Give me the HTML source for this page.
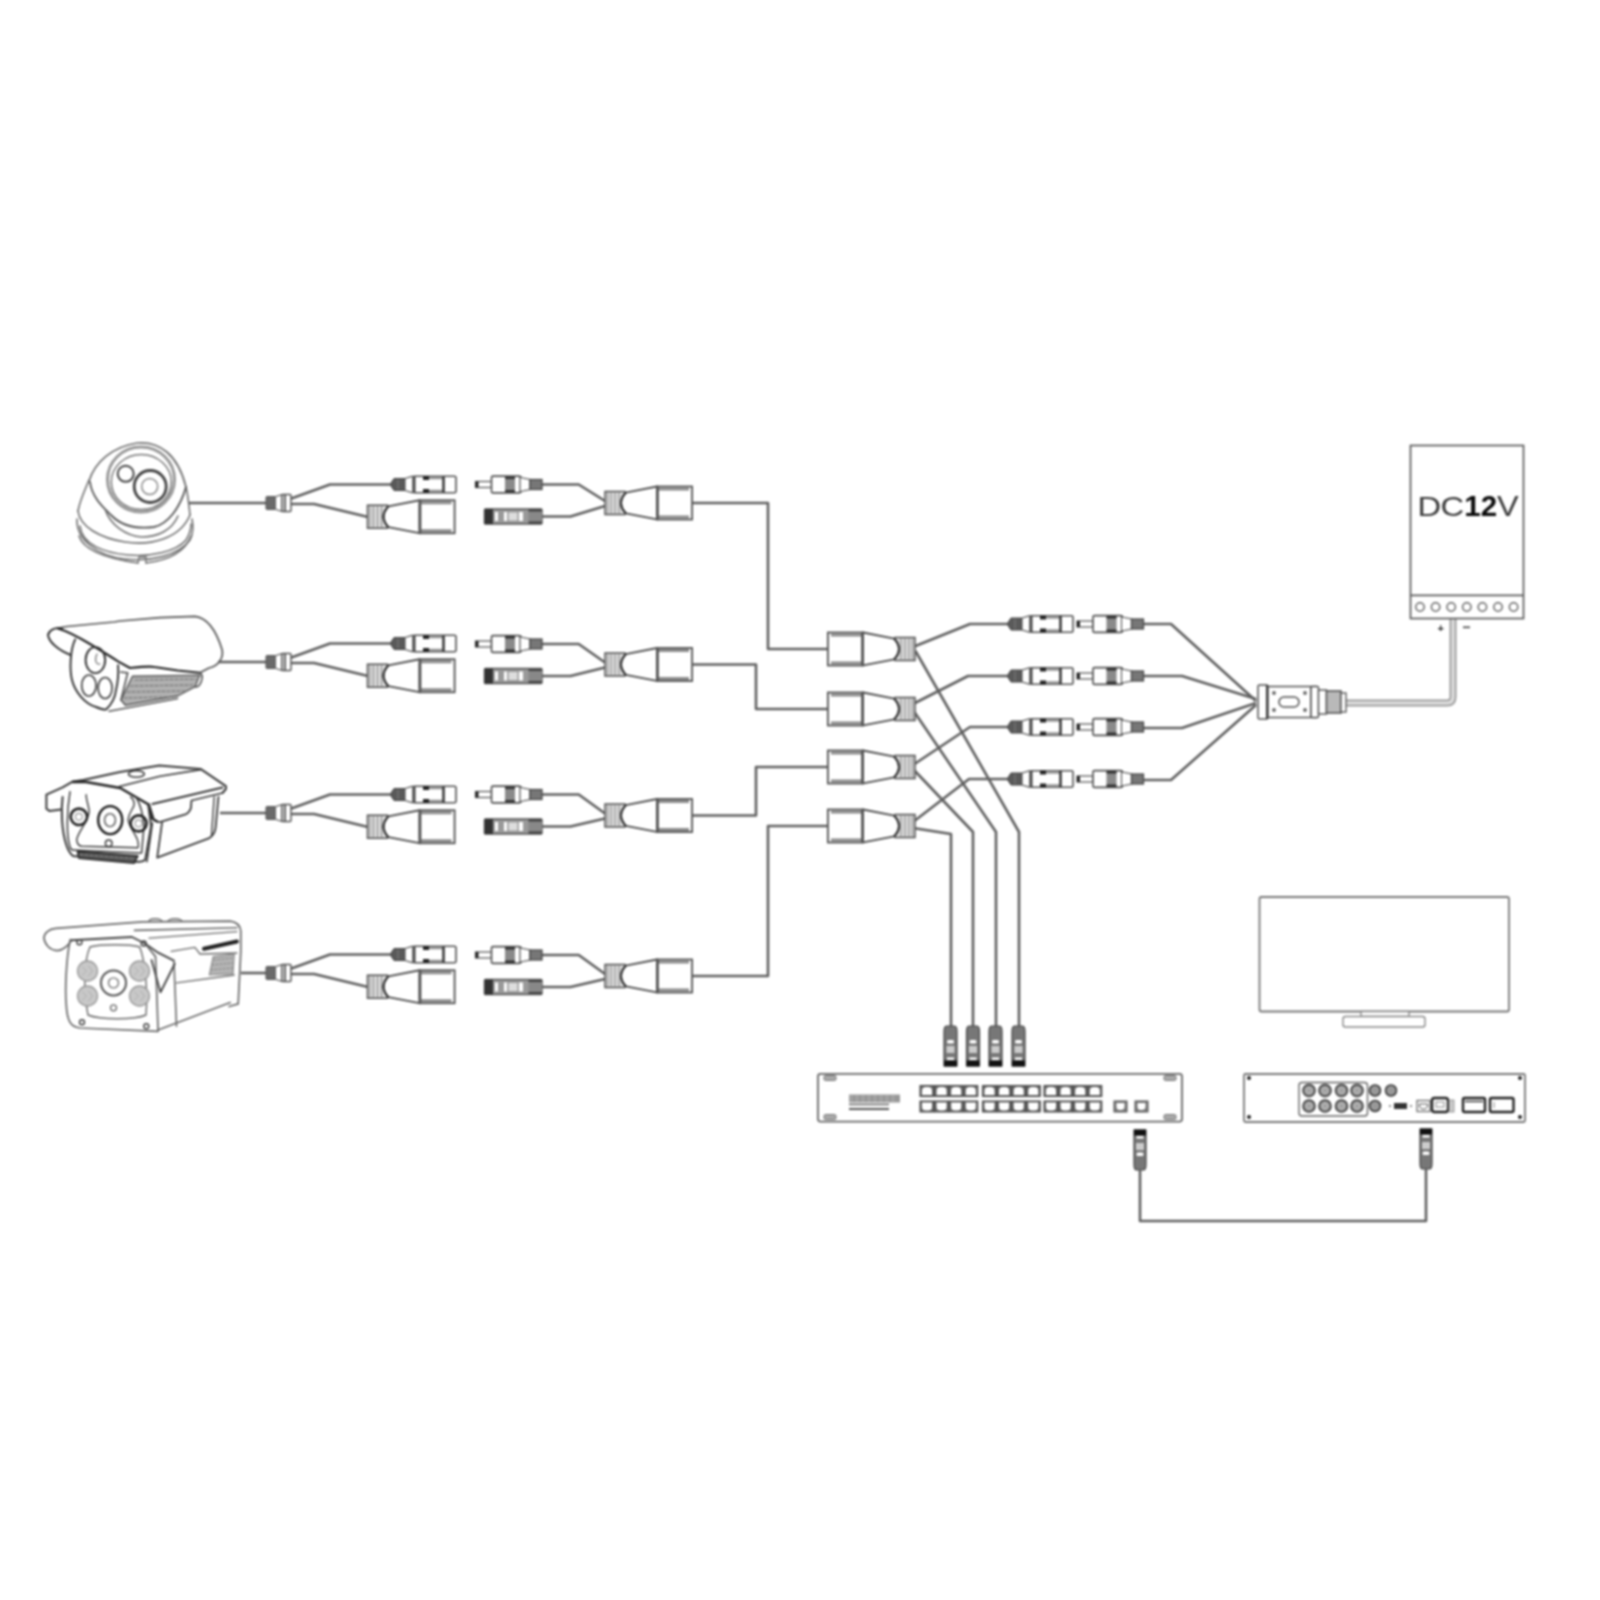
<!DOCTYPE html>
<html><head><meta charset="utf-8"><style>
html,body{margin:0;padding:0;background:#fff;overflow:hidden;width:1600px;height:1600px;}
svg{display:block;filter:blur(0.8px);}
</style></head><body>
<svg width="1600" height="1600" viewBox="0 0 1600 1600">
<defs><filter id="soft" x="0" y="0" width="1600" height="1600" filterUnits="userSpaceOnUse"><feGaussianBlur stdDeviation="0.6"/></filter></defs>
<rect width="1600" height="1600" fill="#fff"/>
<g>
<g id="cam1" fill="none" stroke="#707070" stroke-width="1.6" stroke-linejoin="round" stroke-linecap="round">
  <!-- base rings -->
  <path d="M77,519 C76,540 98,556 125,559 C150,562 178,556 190,540 C194,532 193,524 192,519"/>
  <path d="M80,526 C82,545 105,553 128,555 C150,557 176,552 186,540 C191,532 191,528 191,524"/>
  <path d="M79,536 C84,552 110,559 138,563 M146,563 C170,560 185,552 191,536"/>
  <path d="M138,563 L139,557 L146,557 L146,563" stroke-width="1.4"/>
  <path d="M78,511 C80,527 100,538 125,542 C150,546 180,539 190,515" />
  <!-- shell sides -->
  <path d="M78,511 C80,500 85,490 89,480"/>
  <path d="M186,487 C188,495 189,505 190,515"/>
  <!-- dome top -->
  <path d="M89,481 C95,462 112,447 137,443 C160,441 178,455 186,487" stroke-width="1.7"/>
  <!-- ball bottom U -->
  <path d="M90,482 C92,498 104,508 112,516 C122,526 137,529 154,527 C168,524 180,508 186,487" stroke="#555" stroke-width="1.8"/>
  <path d="M105,509 C110,525 126,536 142,537 C158,537 172,530 178,516"/>
  <!-- lens housing rings -->
  <ellipse cx="141" cy="479.5" rx="33.5" ry="32.5" stroke="#999" stroke-width="3"/>
  <ellipse cx="141.3" cy="482" rx="30" ry="27.5" stroke="#777" stroke-width="1.5"/>
  <circle cx="125.7" cy="473.8" r="8" stroke="#444" stroke-width="2"/>
  <circle cx="150.2" cy="486.5" r="16" stroke="#444" stroke-width="2.8"/>
  <circle cx="149.7" cy="486.5" r="8" stroke="#888" stroke-width="1.5"/>
</g>
<g id="cam2" fill="none" stroke="#555" stroke-width="1.7" stroke-linejoin="round" stroke-linecap="round">
  <path d="M57,628.3 L67,626.5 L114,622 L120,621 L160,617.6 L195,616.4 C208,618 216,630 222,649.5 C224,657 219,666 209,668 L199.8,672.8"/>
  <path d="M62,628.5 C55,627 49,630 48,635 C49,642 58,650 70.7,655" stroke="#333" stroke-width="1.9"/>
  <path d="M58,628.5 C70,632 80,638 90,644 C100,650 110,656 118,661.4 L130,668 C140,667 150,666 154.4,667 L177.7,670.5 L199.8,672.8" stroke="#222" stroke-width="2.1"/>
  <path d="M75.2,639.3 C70,650 69.5,670 72,680 C75,692 85,704 96,707 C101,709 104,710 106,709.5 C112,704 115,699 116,690 C118,682 118.5,672 118.1,665.3" stroke="#333" stroke-width="1.9"/>
  <path d="M120.7,672 L127.7,672.8 L121,700"/>
  <path d="M132.4,676.3 L199.8,675.1 L195.2,686.7 L177.7,696 L125.4,705.3 L121,700 Z" fill="#b0b0b0" stroke="#555" stroke-width="1.4"/>
  <path d="M135,680 L196,679 M130,686 L193,685 M127,692 L185,691 M124,698 L172,697" stroke="#777" stroke-width="1.2" stroke-dasharray="3,2"/>
  <path d="M109,711.2 L177.7,698.4" stroke-width="1.5"/>
  <path d="M199.8,672.8 C205,676 200,688 195.2,686.7"/>
  <ellipse cx="95.4" cy="660.1" rx="9.8" ry="13" stroke="#333" stroke-width="1.9"/>
  <ellipse cx="88.9" cy="685.5" rx="7.2" ry="10.5" stroke="#444" stroke-width="1.7"/>
  <ellipse cx="105.1" cy="688" rx="7" ry="10.5" stroke="#444" stroke-width="1.7"/>
  <path d="M97,654 C94,660 96,665 100,664" stroke="#777" stroke-width="1.2"/>
</g>
<g id="cam3" fill="none" stroke="#3a3a3a" stroke-width="1.8" stroke-linejoin="round" stroke-linecap="round">
  <path d="M61.2,809.4 L49.4,810.9 L46.4,808.7 L46.4,794.7 L62.6,787.3 L73,781.4 L83.3,779.9 L120,772 L159.2,765.5 L200.5,768.9 L225.9,786.1 L225.9,789 L222.5,793" stroke-width="2"/>
  <path d="M119.4,786.5 L160,776.2 L200.5,769.6" stroke-width="1.6"/>
  <path d="M152.4,804 L222.5,787.5" stroke-width="1.8"/>
  <path d="M222.5,793 L191.5,800.5 L190.9,808.1 Q189,813 185.4,814.3 L160.6,821.9 Q155,822 153.7,819.1 L149,804" stroke-width="1.8"/>
  <path d="M73,782 L86,782 L120.2,788 L148.2,804.2 L152.6,819 L157,821.2" stroke="#222" stroke-width="2.4"/>
  <ellipse cx="136.4" cy="774" rx="8" ry="3.2" stroke-width="1.5"/>
  <path d="M162,823 L157.2,857.6 L208.7,838.4 Q215,835 215.6,827.4 L218.4,797" stroke-width="1.8"/>
  <path d="M214.2,797 L211.5,835.6" stroke-width="1.4"/>
  <path d="M152.4,823 L146.9,861.7" stroke-width="1.6"/>
  <path d="M62.6,796.9 C61,810 61.5,830 66.3,844.8 C68,850 70,854 73,855.9 L134.2,861.8 C140,862 144,861 145.2,859.6 L151.1,826.4 L148.2,804.2" stroke-width="2"/>
  <path d="M70,791.7 C67,810 66,835 70,847 C71,850 72,850 73,850 L141.6,852.9 L144,826 C143,815 141,805 136,797" stroke-width="1.5"/>
  <path d="M86.2,794.7 C86,800 89,806 89.2,811.6 C88,822 78,832 76.7,839.6 C77,843 79,846 81.8,846.3 L137.9,847.8 C139,845 138,840 136.4,837.4 C133,830 127,823 128.3,819 C129,812 134,808 134.2,804.2 C134,800 132,798 130.5,796.9" stroke-width="1.4"/>
  <ellipse cx="110.2" cy="820.1" rx="12" ry="14" stroke="#1a1a1a" stroke-width="2.4"/>
  <ellipse cx="110" cy="820.1" rx="5.5" ry="6.5" stroke="#555" stroke-width="1.4"/>
  <circle cx="78.9" cy="816.8" r="8.2" stroke="#222" stroke-width="2.6"/>
  <circle cx="78.9" cy="816.8" r="3.5" stroke="#999" stroke-width="1.2"/>
  <circle cx="138.6" cy="823.4" r="8" stroke="#222" stroke-width="2.6"/>
  <circle cx="138.6" cy="823.4" r="3.5" stroke="#999" stroke-width="1.2"/>
  <circle cx="108.7" cy="843.3" r="3.3" stroke-width="1.5"/>
  <path d="M77.4,851.4 L137.9,855.9 L134.2,863.2 L78.9,858.1 Z" fill="#555" stroke="#2a2a2a" stroke-width="1.6"/>
  <path d="M80,854.5 L135,858.5" stroke="#999" stroke-width="0.8" stroke-dasharray="3,2"/>
</g>
<g id="cam4" fill="none" stroke="#6a6a6a" stroke-width="1.6" stroke-linejoin="round" stroke-linecap="round">
  <path d="M71.5,940.2 C68,946 63,950 57,950.7 C50,950 45,945 43.9,938.2 C44,933 49,929 55.75,928.4 L142.4,921.8 L230.3,921.2 C236,922 240,925 240.8,931 L240.8,951.4 L238.2,1003.9 L229,1006.5" stroke-width="1.7"/>
  <path d="M149,921 C150,918 160,918 162,921 M168,921 C170,918 180,918 182,921" stroke-width="1.3"/>
  <path d="M71.5,940.2 L131.9,937 L145,943.5 L158.1,952.7 L173.9,960.6" stroke="#444" stroke-width="1.9"/>
  <path d="M134.5,930.4 L236.9,927.7"/>
  <path d="M149,938.2 L236.9,931.7" stroke-width="1.2"/>
  <path d="M204,948.7 L236.9,941.5" stroke="#222" stroke-width="4"/>
  <path d="M171.2,951.4 L194.9,947.4 L200,954 L236.9,953" stroke-width="1.3"/>
  <path d="M213.2,956.6 L234.2,954 L233,973.7 L209.3,975 Z" fill="#b4b4b4" stroke="#888" stroke-width="1.2"/><path d="M214,960 L233,958 M212,965 L233,963 M211,970 L233,968" stroke="#888" stroke-width="1" stroke-dasharray="2,2"/>
  <path d="M176.5,982.9 L234.2,975" stroke-width="1.3"/>
  <path d="M158,1030 L230.3,1002.6"/>
  <path d="M173.9,960.6 L176.5,1026.2"/>
  <path d="M70.2,939.6 C66,960 65,990 66.2,1003.9 C67,1020 70,1027 80,1028 L158.1,1031.4 L155.5,956.6 L145,943.5" stroke-width="1.7"/>
  <path d="M151.5,960 L160.5,992.25 L174.75,963.75" stroke="#444" stroke-width="1.8"/>
  <path d="M90,947 C100,944 130,944 139.7,947 C145,960 148,990 146,1015 C135,1020 100,1020 88,1015 C83,990 84,960 90,947" stroke-width="1.4"/>
  <circle cx="113.5" cy="982.9" r="12.5" stroke="#555" stroke-width="2"/>
  <circle cx="113.5" cy="982.9" r="5" stroke="#777" stroke-width="1.4"/>
  <circle cx="87.5" cy="971" r="10" fill="#c8c8c8" stroke="#999" stroke-width="1.3"/><path d="M82.5,967.0 l4,4 l-4,4 M88.5,966.0 l4,5 l-4,5" stroke="#aaa" stroke-width="0.9"/>
  <circle cx="139.5" cy="971" r="10" fill="#c8c8c8" stroke="#999" stroke-width="1.3"/><path d="M134.5,967.0 l4,4 l-4,4 M140.5,966.0 l4,5 l-4,5" stroke="#aaa" stroke-width="0.9"/>
  <circle cx="87.5" cy="996" r="10" fill="#c8c8c8" stroke="#999" stroke-width="1.3"/><path d="M82.5,992.0 l4,4 l-4,4 M88.5,991.0 l4,5 l-4,5" stroke="#aaa" stroke-width="0.9"/>
  <circle cx="139.5" cy="996" r="10" fill="#c8c8c8" stroke="#999" stroke-width="1.3"/><path d="M134.5,992.0 l4,4 l-4,4 M140.5,991.0 l4,5 l-4,5" stroke="#aaa" stroke-width="0.9"/>
  <circle cx="113.5" cy="1007.8" r="3" stroke-width="1.3"/>
  <circle cx="79.4" cy="942.2" r="2.5" stroke="#444" stroke-width="1.4"/>
  <circle cx="143.7" cy="943.5" r="2.5" stroke="#444" stroke-width="1.4"/>
  <circle cx="82" cy="1022.2" r="2.5" stroke="#444" stroke-width="1.4"/>
  <circle cx="146.3" cy="1026.2" r="2.5" stroke="#444" stroke-width="1.4"/>
</g>

<path d="M189,503 L266,503" fill="none" stroke="#606060" stroke-width="2.6" stroke-linejoin="round" /><path d="M290,499 L330,484.5 L395,484.5" fill="none" stroke="#606060" stroke-width="2.6" stroke-linejoin="round" /><path d="M290,504 L314,504 L368,517" fill="none" stroke="#606060" stroke-width="2.6" stroke-linejoin="round" /><g transform="translate(265,503)"><rect x="1" y="-6.5" width="10" height="13" rx="1" fill="#6a6a6a" stroke="#555" stroke-width="1"/><path d="M11,-6.5 L17,-8.5 L17,8.5 L11,6.5" fill="#fff" stroke="#505050" stroke-width="1.2"/><rect x="17" y="-8.5" width="9" height="17" rx="1" fill="#fff" stroke="#505050" stroke-width="1.4"/><line x1="20" y1="-8.5" x2="20" y2="8.5" stroke="#555" stroke-width="1.8"/></g><g transform="translate(394,484.5)"><path d="M-3,-1.5 L0,-6 L11,-6 L11,6 L0,6 L-3,1.5 Z" fill="#5a5a5a" stroke="#444" stroke-width="1"/><line x1="4" y1="-5" x2="4" y2="5" stroke="#888" stroke-width="0.8"/><path d="M11,-6 L19,-8.3 M11,6 L19,8.3" stroke="#505050" stroke-width="1.2"/><rect x="19" y="-8.3" width="43" height="16.6" rx="1.5" fill="#fff" stroke="#505050" stroke-width="1.6"/><line x1="20.5" y1="-8" x2="20.5" y2="8" stroke="#444" stroke-width="2"/><rect x="29" y="-8.3" width="6" height="3.8" fill="#222"/><rect x="29" y="4.5" width="6" height="3.8" fill="#222"/><rect x="35" y="-7.8" width="14" height="2.6" fill="#9a9a9a"/><rect x="35" y="5.2" width="14" height="2.6" fill="#9a9a9a"/><line x1="49.5" y1="-8" x2="49.5" y2="8" stroke="#333" stroke-width="2.5"/></g><g transform="translate(455.5,516.75) scale(-1,1)"><rect x="68" y="-11.5" width="20" height="23" fill="#dcdcdc" stroke="#505050" stroke-width="1.5"/><line x1="74" y1="-11" x2="74" y2="11" stroke="#888" stroke-width="1"/><line x1="78" y1="-11" x2="78" y2="11" stroke="#888" stroke-width="1"/><line x1="82" y1="-11" x2="82" y2="11" stroke="#888" stroke-width="1"/><line x1="85.5" y1="-11" x2="85.5" y2="11" stroke="#888" stroke-width="1"/><path d="M36,-16.5 L67,-10.5 Q77,0 67,10.5 L36,16.5 Z" fill="#fff" stroke="#505050" stroke-width="1.8"/><path d="M67,-10.5 Q77,0 67,10.5" fill="none" stroke="#333" stroke-width="2"/><rect x="0.9" y="-16.5" width="35" height="33" fill="#fff" stroke="#505050" stroke-width="1.8"/><rect x="4" y="-15.5" width="32" height="3" fill="#8c8c8c"/><rect x="4" y="12.5" width="32" height="3" fill="#8c8c8c"/><line x1="35" y1="-16" x2="35" y2="16" stroke="#505050" stroke-width="1.6"/></g><path d="M541,484.5 L578.7,484.5 L605,501" fill="none" stroke="#606060" stroke-width="2.6" stroke-linejoin="round" /><path d="M541,516.5 L570.5,516.5 L605,506" fill="none" stroke="#606060" stroke-width="2.6" stroke-linejoin="round" /><g transform="translate(475.5,484.5)"><rect x="0" y="-3" width="16" height="6" fill="#fff" stroke="#505050" stroke-width="1.2"/><rect x="0" y="-3" width="3" height="6" fill="#222"/><rect x="16" y="-8.4" width="29" height="16.8" rx="1.5" fill="#fff" stroke="#505050" stroke-width="1.6"/><rect x="29.5" y="-8" width="10" height="16" fill="#8a8a8a"/><rect x="29.5" y="-8" width="10" height="2.5" fill="#333"/><rect x="29.5" y="5.5" width="10" height="2.5" fill="#333"/><line x1="45" y1="-8.4" x2="45" y2="8.4" stroke="#444" stroke-width="2"/><path d="M45,-7 L54.5,-5 L54.5,5 L45,7" fill="#fff" stroke="#505050" stroke-width="1.2"/><rect x="54.5" y="-5" width="12" height="10" fill="#777" stroke="#444" stroke-width="1.2"/></g><g transform="translate(484.5,516.5)"><rect x="0" y="-7.5" width="57.5" height="15" rx="1" fill="#9a9a9a" stroke="#555" stroke-width="1.4"/><rect x="0" y="-7.5" width="8.5" height="15" fill="#333"/><rect x="10.5" y="-4.5" width="3" height="9" fill="#fff"/><rect x="19.5" y="-4.5" width="3" height="9" fill="#fff"/><rect x="24" y="-4" width="9" height="8" fill="#ddd"/><rect x="34.5" y="-4.5" width="4" height="9" fill="#fff"/><rect x="44" y="-7.5" width="13.5" height="15" fill="#888"/><rect x="44" y="-7.5" width="13.5" height="2.5" fill="#444"/><rect x="44" y="5" width="13.5" height="2.5" fill="#444"/></g><g transform="translate(693,503) scale(-1,1)"><rect x="68" y="-11.5" width="20" height="23" fill="#dcdcdc" stroke="#505050" stroke-width="1.5"/><line x1="74" y1="-11" x2="74" y2="11" stroke="#888" stroke-width="1"/><line x1="78" y1="-11" x2="78" y2="11" stroke="#888" stroke-width="1"/><line x1="82" y1="-11" x2="82" y2="11" stroke="#888" stroke-width="1"/><line x1="85.5" y1="-11" x2="85.5" y2="11" stroke="#888" stroke-width="1"/><path d="M36,-16.5 L67,-10.5 Q77,0 67,10.5 L36,16.5 Z" fill="#fff" stroke="#505050" stroke-width="1.8"/><path d="M67,-10.5 Q77,0 67,10.5" fill="none" stroke="#333" stroke-width="2"/><rect x="0.9" y="-16.5" width="35" height="33" fill="#fff" stroke="#505050" stroke-width="1.8"/><rect x="4" y="-15.5" width="32" height="3" fill="#8c8c8c"/><rect x="4" y="12.5" width="32" height="3" fill="#8c8c8c"/><line x1="35" y1="-16" x2="35" y2="16" stroke="#505050" stroke-width="1.6"/></g><path d="M218,662 L266,662" fill="none" stroke="#606060" stroke-width="2.6" stroke-linejoin="round" /><path d="M290,658 L330,643.5 L395,643.5" fill="none" stroke="#606060" stroke-width="2.6" stroke-linejoin="round" /><path d="M290,663 L314,663 L368,676" fill="none" stroke="#606060" stroke-width="2.6" stroke-linejoin="round" /><g transform="translate(265,662)"><rect x="1" y="-6.5" width="10" height="13" rx="1" fill="#6a6a6a" stroke="#555" stroke-width="1"/><path d="M11,-6.5 L17,-8.5 L17,8.5 L11,6.5" fill="#fff" stroke="#505050" stroke-width="1.2"/><rect x="17" y="-8.5" width="9" height="17" rx="1" fill="#fff" stroke="#505050" stroke-width="1.4"/><line x1="20" y1="-8.5" x2="20" y2="8.5" stroke="#555" stroke-width="1.8"/></g><g transform="translate(394,643.5)"><path d="M-3,-1.5 L0,-6 L11,-6 L11,6 L0,6 L-3,1.5 Z" fill="#5a5a5a" stroke="#444" stroke-width="1"/><line x1="4" y1="-5" x2="4" y2="5" stroke="#888" stroke-width="0.8"/><path d="M11,-6 L19,-8.3 M11,6 L19,8.3" stroke="#505050" stroke-width="1.2"/><rect x="19" y="-8.3" width="43" height="16.6" rx="1.5" fill="#fff" stroke="#505050" stroke-width="1.6"/><line x1="20.5" y1="-8" x2="20.5" y2="8" stroke="#444" stroke-width="2"/><rect x="29" y="-8.3" width="6" height="3.8" fill="#222"/><rect x="29" y="4.5" width="6" height="3.8" fill="#222"/><rect x="35" y="-7.8" width="14" height="2.6" fill="#9a9a9a"/><rect x="35" y="5.2" width="14" height="2.6" fill="#9a9a9a"/><line x1="49.5" y1="-8" x2="49.5" y2="8" stroke="#333" stroke-width="2.5"/></g><g transform="translate(455.5,675.75) scale(-1,1)"><rect x="68" y="-11.5" width="20" height="23" fill="#dcdcdc" stroke="#505050" stroke-width="1.5"/><line x1="74" y1="-11" x2="74" y2="11" stroke="#888" stroke-width="1"/><line x1="78" y1="-11" x2="78" y2="11" stroke="#888" stroke-width="1"/><line x1="82" y1="-11" x2="82" y2="11" stroke="#888" stroke-width="1"/><line x1="85.5" y1="-11" x2="85.5" y2="11" stroke="#888" stroke-width="1"/><path d="M36,-16.5 L67,-10.5 Q77,0 67,10.5 L36,16.5 Z" fill="#fff" stroke="#505050" stroke-width="1.8"/><path d="M67,-10.5 Q77,0 67,10.5" fill="none" stroke="#333" stroke-width="2"/><rect x="0.9" y="-16.5" width="35" height="33" fill="#fff" stroke="#505050" stroke-width="1.8"/><rect x="4" y="-15.5" width="32" height="3" fill="#8c8c8c"/><rect x="4" y="12.5" width="32" height="3" fill="#8c8c8c"/><line x1="35" y1="-16" x2="35" y2="16" stroke="#505050" stroke-width="1.6"/></g><path d="M541,644.0 L578.7,644.0 L605,662.5" fill="none" stroke="#606060" stroke-width="2.6" stroke-linejoin="round" /><path d="M541,676.0 L570.5,676.0 L605,667.5" fill="none" stroke="#606060" stroke-width="2.6" stroke-linejoin="round" /><g transform="translate(475.5,644.0)"><rect x="0" y="-3" width="16" height="6" fill="#fff" stroke="#505050" stroke-width="1.2"/><rect x="0" y="-3" width="3" height="6" fill="#222"/><rect x="16" y="-8.4" width="29" height="16.8" rx="1.5" fill="#fff" stroke="#505050" stroke-width="1.6"/><rect x="29.5" y="-8" width="10" height="16" fill="#8a8a8a"/><rect x="29.5" y="-8" width="10" height="2.5" fill="#333"/><rect x="29.5" y="5.5" width="10" height="2.5" fill="#333"/><line x1="45" y1="-8.4" x2="45" y2="8.4" stroke="#444" stroke-width="2"/><path d="M45,-7 L54.5,-5 L54.5,5 L45,7" fill="#fff" stroke="#505050" stroke-width="1.2"/><rect x="54.5" y="-5" width="12" height="10" fill="#777" stroke="#444" stroke-width="1.2"/></g><g transform="translate(484.5,676.0)"><rect x="0" y="-7.5" width="57.5" height="15" rx="1" fill="#9a9a9a" stroke="#555" stroke-width="1.4"/><rect x="0" y="-7.5" width="8.5" height="15" fill="#333"/><rect x="10.5" y="-4.5" width="3" height="9" fill="#fff"/><rect x="19.5" y="-4.5" width="3" height="9" fill="#fff"/><rect x="24" y="-4" width="9" height="8" fill="#ddd"/><rect x="34.5" y="-4.5" width="4" height="9" fill="#fff"/><rect x="44" y="-7.5" width="13.5" height="15" fill="#888"/><rect x="44" y="-7.5" width="13.5" height="2.5" fill="#444"/><rect x="44" y="5" width="13.5" height="2.5" fill="#444"/></g><g transform="translate(693,664.5) scale(-1,1)"><rect x="68" y="-11.5" width="20" height="23" fill="#dcdcdc" stroke="#505050" stroke-width="1.5"/><line x1="74" y1="-11" x2="74" y2="11" stroke="#888" stroke-width="1"/><line x1="78" y1="-11" x2="78" y2="11" stroke="#888" stroke-width="1"/><line x1="82" y1="-11" x2="82" y2="11" stroke="#888" stroke-width="1"/><line x1="85.5" y1="-11" x2="85.5" y2="11" stroke="#888" stroke-width="1"/><path d="M36,-16.5 L67,-10.5 Q77,0 67,10.5 L36,16.5 Z" fill="#fff" stroke="#505050" stroke-width="1.8"/><path d="M67,-10.5 Q77,0 67,10.5" fill="none" stroke="#333" stroke-width="2"/><rect x="0.9" y="-16.5" width="35" height="33" fill="#fff" stroke="#505050" stroke-width="1.8"/><rect x="4" y="-15.5" width="32" height="3" fill="#8c8c8c"/><rect x="4" y="12.5" width="32" height="3" fill="#8c8c8c"/><line x1="35" y1="-16" x2="35" y2="16" stroke="#505050" stroke-width="1.6"/></g><path d="M220,813 L266,813" fill="none" stroke="#606060" stroke-width="2.6" stroke-linejoin="round" /><path d="M290,809 L330,794.5 L395,794.5" fill="none" stroke="#606060" stroke-width="2.6" stroke-linejoin="round" /><path d="M290,814 L314,814 L368,827" fill="none" stroke="#606060" stroke-width="2.6" stroke-linejoin="round" /><g transform="translate(265,813)"><rect x="1" y="-6.5" width="10" height="13" rx="1" fill="#6a6a6a" stroke="#555" stroke-width="1"/><path d="M11,-6.5 L17,-8.5 L17,8.5 L11,6.5" fill="#fff" stroke="#505050" stroke-width="1.2"/><rect x="17" y="-8.5" width="9" height="17" rx="1" fill="#fff" stroke="#505050" stroke-width="1.4"/><line x1="20" y1="-8.5" x2="20" y2="8.5" stroke="#555" stroke-width="1.8"/></g><g transform="translate(394,794.5)"><path d="M-3,-1.5 L0,-6 L11,-6 L11,6 L0,6 L-3,1.5 Z" fill="#5a5a5a" stroke="#444" stroke-width="1"/><line x1="4" y1="-5" x2="4" y2="5" stroke="#888" stroke-width="0.8"/><path d="M11,-6 L19,-8.3 M11,6 L19,8.3" stroke="#505050" stroke-width="1.2"/><rect x="19" y="-8.3" width="43" height="16.6" rx="1.5" fill="#fff" stroke="#505050" stroke-width="1.6"/><line x1="20.5" y1="-8" x2="20.5" y2="8" stroke="#444" stroke-width="2"/><rect x="29" y="-8.3" width="6" height="3.8" fill="#222"/><rect x="29" y="4.5" width="6" height="3.8" fill="#222"/><rect x="35" y="-7.8" width="14" height="2.6" fill="#9a9a9a"/><rect x="35" y="5.2" width="14" height="2.6" fill="#9a9a9a"/><line x1="49.5" y1="-8" x2="49.5" y2="8" stroke="#333" stroke-width="2.5"/></g><g transform="translate(455.5,826.75) scale(-1,1)"><rect x="68" y="-11.5" width="20" height="23" fill="#dcdcdc" stroke="#505050" stroke-width="1.5"/><line x1="74" y1="-11" x2="74" y2="11" stroke="#888" stroke-width="1"/><line x1="78" y1="-11" x2="78" y2="11" stroke="#888" stroke-width="1"/><line x1="82" y1="-11" x2="82" y2="11" stroke="#888" stroke-width="1"/><line x1="85.5" y1="-11" x2="85.5" y2="11" stroke="#888" stroke-width="1"/><path d="M36,-16.5 L67,-10.5 Q77,0 67,10.5 L36,16.5 Z" fill="#fff" stroke="#505050" stroke-width="1.8"/><path d="M67,-10.5 Q77,0 67,10.5" fill="none" stroke="#333" stroke-width="2"/><rect x="0.9" y="-16.5" width="35" height="33" fill="#fff" stroke="#505050" stroke-width="1.8"/><rect x="4" y="-15.5" width="32" height="3" fill="#8c8c8c"/><rect x="4" y="12.5" width="32" height="3" fill="#8c8c8c"/><line x1="35" y1="-16" x2="35" y2="16" stroke="#505050" stroke-width="1.6"/></g><path d="M541,794.5 L578.7,794.5 L605,813.5" fill="none" stroke="#606060" stroke-width="2.6" stroke-linejoin="round" /><path d="M541,826.5 L570.5,826.5 L605,818.5" fill="none" stroke="#606060" stroke-width="2.6" stroke-linejoin="round" /><g transform="translate(475.5,794.5)"><rect x="0" y="-3" width="16" height="6" fill="#fff" stroke="#505050" stroke-width="1.2"/><rect x="0" y="-3" width="3" height="6" fill="#222"/><rect x="16" y="-8.4" width="29" height="16.8" rx="1.5" fill="#fff" stroke="#505050" stroke-width="1.6"/><rect x="29.5" y="-8" width="10" height="16" fill="#8a8a8a"/><rect x="29.5" y="-8" width="10" height="2.5" fill="#333"/><rect x="29.5" y="5.5" width="10" height="2.5" fill="#333"/><line x1="45" y1="-8.4" x2="45" y2="8.4" stroke="#444" stroke-width="2"/><path d="M45,-7 L54.5,-5 L54.5,5 L45,7" fill="#fff" stroke="#505050" stroke-width="1.2"/><rect x="54.5" y="-5" width="12" height="10" fill="#777" stroke="#444" stroke-width="1.2"/></g><g transform="translate(484.5,826.5)"><rect x="0" y="-7.5" width="57.5" height="15" rx="1" fill="#9a9a9a" stroke="#555" stroke-width="1.4"/><rect x="0" y="-7.5" width="8.5" height="15" fill="#333"/><rect x="10.5" y="-4.5" width="3" height="9" fill="#fff"/><rect x="19.5" y="-4.5" width="3" height="9" fill="#fff"/><rect x="24" y="-4" width="9" height="8" fill="#ddd"/><rect x="34.5" y="-4.5" width="4" height="9" fill="#fff"/><rect x="44" y="-7.5" width="13.5" height="15" fill="#888"/><rect x="44" y="-7.5" width="13.5" height="2.5" fill="#444"/><rect x="44" y="5" width="13.5" height="2.5" fill="#444"/></g><g transform="translate(693,815.5) scale(-1,1)"><rect x="68" y="-11.5" width="20" height="23" fill="#dcdcdc" stroke="#505050" stroke-width="1.5"/><line x1="74" y1="-11" x2="74" y2="11" stroke="#888" stroke-width="1"/><line x1="78" y1="-11" x2="78" y2="11" stroke="#888" stroke-width="1"/><line x1="82" y1="-11" x2="82" y2="11" stroke="#888" stroke-width="1"/><line x1="85.5" y1="-11" x2="85.5" y2="11" stroke="#888" stroke-width="1"/><path d="M36,-16.5 L67,-10.5 Q77,0 67,10.5 L36,16.5 Z" fill="#fff" stroke="#505050" stroke-width="1.8"/><path d="M67,-10.5 Q77,0 67,10.5" fill="none" stroke="#333" stroke-width="2"/><rect x="0.9" y="-16.5" width="35" height="33" fill="#fff" stroke="#505050" stroke-width="1.8"/><rect x="4" y="-15.5" width="32" height="3" fill="#8c8c8c"/><rect x="4" y="12.5" width="32" height="3" fill="#8c8c8c"/><line x1="35" y1="-16" x2="35" y2="16" stroke="#505050" stroke-width="1.6"/></g><path d="M241,973 L266,973" fill="none" stroke="#606060" stroke-width="2.6" stroke-linejoin="round" /><path d="M290,969 L330,954.5 L395,954.5" fill="none" stroke="#606060" stroke-width="2.6" stroke-linejoin="round" /><path d="M290,974 L314,974 L368,987" fill="none" stroke="#606060" stroke-width="2.6" stroke-linejoin="round" /><g transform="translate(265,973)"><rect x="1" y="-6.5" width="10" height="13" rx="1" fill="#6a6a6a" stroke="#555" stroke-width="1"/><path d="M11,-6.5 L17,-8.5 L17,8.5 L11,6.5" fill="#fff" stroke="#505050" stroke-width="1.2"/><rect x="17" y="-8.5" width="9" height="17" rx="1" fill="#fff" stroke="#505050" stroke-width="1.4"/><line x1="20" y1="-8.5" x2="20" y2="8.5" stroke="#555" stroke-width="1.8"/></g><g transform="translate(394,954.5)"><path d="M-3,-1.5 L0,-6 L11,-6 L11,6 L0,6 L-3,1.5 Z" fill="#5a5a5a" stroke="#444" stroke-width="1"/><line x1="4" y1="-5" x2="4" y2="5" stroke="#888" stroke-width="0.8"/><path d="M11,-6 L19,-8.3 M11,6 L19,8.3" stroke="#505050" stroke-width="1.2"/><rect x="19" y="-8.3" width="43" height="16.6" rx="1.5" fill="#fff" stroke="#505050" stroke-width="1.6"/><line x1="20.5" y1="-8" x2="20.5" y2="8" stroke="#444" stroke-width="2"/><rect x="29" y="-8.3" width="6" height="3.8" fill="#222"/><rect x="29" y="4.5" width="6" height="3.8" fill="#222"/><rect x="35" y="-7.8" width="14" height="2.6" fill="#9a9a9a"/><rect x="35" y="5.2" width="14" height="2.6" fill="#9a9a9a"/><line x1="49.5" y1="-8" x2="49.5" y2="8" stroke="#333" stroke-width="2.5"/></g><g transform="translate(455.5,986.75) scale(-1,1)"><rect x="68" y="-11.5" width="20" height="23" fill="#dcdcdc" stroke="#505050" stroke-width="1.5"/><line x1="74" y1="-11" x2="74" y2="11" stroke="#888" stroke-width="1"/><line x1="78" y1="-11" x2="78" y2="11" stroke="#888" stroke-width="1"/><line x1="82" y1="-11" x2="82" y2="11" stroke="#888" stroke-width="1"/><line x1="85.5" y1="-11" x2="85.5" y2="11" stroke="#888" stroke-width="1"/><path d="M36,-16.5 L67,-10.5 Q77,0 67,10.5 L36,16.5 Z" fill="#fff" stroke="#505050" stroke-width="1.8"/><path d="M67,-10.5 Q77,0 67,10.5" fill="none" stroke="#333" stroke-width="2"/><rect x="0.9" y="-16.5" width="35" height="33" fill="#fff" stroke="#505050" stroke-width="1.8"/><rect x="4" y="-15.5" width="32" height="3" fill="#8c8c8c"/><rect x="4" y="12.5" width="32" height="3" fill="#8c8c8c"/><line x1="35" y1="-16" x2="35" y2="16" stroke="#505050" stroke-width="1.6"/></g><path d="M541,955.0 L578.7,955.0 L605,974" fill="none" stroke="#606060" stroke-width="2.6" stroke-linejoin="round" /><path d="M541,987.0 L570.5,987.0 L605,979" fill="none" stroke="#606060" stroke-width="2.6" stroke-linejoin="round" /><g transform="translate(475.5,955.0)"><rect x="0" y="-3" width="16" height="6" fill="#fff" stroke="#505050" stroke-width="1.2"/><rect x="0" y="-3" width="3" height="6" fill="#222"/><rect x="16" y="-8.4" width="29" height="16.8" rx="1.5" fill="#fff" stroke="#505050" stroke-width="1.6"/><rect x="29.5" y="-8" width="10" height="16" fill="#8a8a8a"/><rect x="29.5" y="-8" width="10" height="2.5" fill="#333"/><rect x="29.5" y="5.5" width="10" height="2.5" fill="#333"/><line x1="45" y1="-8.4" x2="45" y2="8.4" stroke="#444" stroke-width="2"/><path d="M45,-7 L54.5,-5 L54.5,5 L45,7" fill="#fff" stroke="#505050" stroke-width="1.2"/><rect x="54.5" y="-5" width="12" height="10" fill="#777" stroke="#444" stroke-width="1.2"/></g><g transform="translate(484.5,987.0)"><rect x="0" y="-7.5" width="57.5" height="15" rx="1" fill="#9a9a9a" stroke="#555" stroke-width="1.4"/><rect x="0" y="-7.5" width="8.5" height="15" fill="#333"/><rect x="10.5" y="-4.5" width="3" height="9" fill="#fff"/><rect x="19.5" y="-4.5" width="3" height="9" fill="#fff"/><rect x="24" y="-4" width="9" height="8" fill="#ddd"/><rect x="34.5" y="-4.5" width="4" height="9" fill="#fff"/><rect x="44" y="-7.5" width="13.5" height="15" fill="#888"/><rect x="44" y="-7.5" width="13.5" height="2.5" fill="#444"/><rect x="44" y="5" width="13.5" height="2.5" fill="#444"/></g><g transform="translate(693,976) scale(-1,1)"><rect x="68" y="-11.5" width="20" height="23" fill="#dcdcdc" stroke="#505050" stroke-width="1.5"/><line x1="74" y1="-11" x2="74" y2="11" stroke="#888" stroke-width="1"/><line x1="78" y1="-11" x2="78" y2="11" stroke="#888" stroke-width="1"/><line x1="82" y1="-11" x2="82" y2="11" stroke="#888" stroke-width="1"/><line x1="85.5" y1="-11" x2="85.5" y2="11" stroke="#888" stroke-width="1"/><path d="M36,-16.5 L67,-10.5 Q77,0 67,10.5 L36,16.5 Z" fill="#fff" stroke="#505050" stroke-width="1.8"/><path d="M67,-10.5 Q77,0 67,10.5" fill="none" stroke="#333" stroke-width="2"/><rect x="0.9" y="-16.5" width="35" height="33" fill="#fff" stroke="#505050" stroke-width="1.8"/><rect x="4" y="-15.5" width="32" height="3" fill="#8c8c8c"/><rect x="4" y="12.5" width="32" height="3" fill="#8c8c8c"/><line x1="35" y1="-16" x2="35" y2="16" stroke="#505050" stroke-width="1.6"/></g><path d="M693,503 L768,503 L768,649 L828,649" fill="none" stroke="#606060" stroke-width="2.6" stroke-linejoin="round" /><path d="M693,664.5 L756,664.5 L756,709 L828,709" fill="none" stroke="#606060" stroke-width="2.6" stroke-linejoin="round" /><path d="M693,815.5 L756,815.5 L756,767 L828,767" fill="none" stroke="#606060" stroke-width="2.6" stroke-linejoin="round" /><path d="M693,976 L768,976 L768,826 L828,826" fill="none" stroke="#606060" stroke-width="2.6" stroke-linejoin="round" /><path d="M913,647 L970,624 L1012,624" fill="none" stroke="#606060" stroke-width="2.6" stroke-linejoin="round" /><path d="M913,704 L968,676 L1012,676" fill="none" stroke="#606060" stroke-width="2.6" stroke-linejoin="round" /><path d="M913,765 L970,727 L1012,727" fill="none" stroke="#606060" stroke-width="2.6" stroke-linejoin="round" /><path d="M913,822 L969,779 L1012,779" fill="none" stroke="#606060" stroke-width="2.6" stroke-linejoin="round" /><path d="M915.5,651 L1019,832 L1019,1027" fill="none" stroke="#606060" stroke-width="2.6" stroke-linejoin="round" /><path d="M913,710 L996,832 L996,1027" fill="none" stroke="#606060" stroke-width="2.6" stroke-linejoin="round" /><path d="M913,769 L973,832 L973,1027" fill="none" stroke="#606060" stroke-width="2.6" stroke-linejoin="round" /><path d="M913,828 L951,834 L951,1027" fill="none" stroke="#606060" stroke-width="2.6" stroke-linejoin="round" /><g transform="translate(827,649) scale(1,1)"><rect x="68" y="-11.5" width="20" height="23" fill="#dcdcdc" stroke="#505050" stroke-width="1.5"/><line x1="74" y1="-11" x2="74" y2="11" stroke="#888" stroke-width="1"/><line x1="78" y1="-11" x2="78" y2="11" stroke="#888" stroke-width="1"/><line x1="82" y1="-11" x2="82" y2="11" stroke="#888" stroke-width="1"/><line x1="85.5" y1="-11" x2="85.5" y2="11" stroke="#888" stroke-width="1"/><path d="M36,-16.5 L67,-10.5 Q77,0 67,10.5 L36,16.5 Z" fill="#fff" stroke="#505050" stroke-width="1.8"/><path d="M67,-10.5 Q77,0 67,10.5" fill="none" stroke="#333" stroke-width="2"/><rect x="0.9" y="-16.5" width="35" height="33" fill="#fff" stroke="#505050" stroke-width="1.8"/><rect x="4" y="-15.5" width="32" height="3" fill="#8c8c8c"/><rect x="4" y="12.5" width="32" height="3" fill="#8c8c8c"/><line x1="35" y1="-16" x2="35" y2="16" stroke="#505050" stroke-width="1.6"/></g><g transform="translate(827,709) scale(1,1)"><rect x="68" y="-11.5" width="20" height="23" fill="#dcdcdc" stroke="#505050" stroke-width="1.5"/><line x1="74" y1="-11" x2="74" y2="11" stroke="#888" stroke-width="1"/><line x1="78" y1="-11" x2="78" y2="11" stroke="#888" stroke-width="1"/><line x1="82" y1="-11" x2="82" y2="11" stroke="#888" stroke-width="1"/><line x1="85.5" y1="-11" x2="85.5" y2="11" stroke="#888" stroke-width="1"/><path d="M36,-16.5 L67,-10.5 Q77,0 67,10.5 L36,16.5 Z" fill="#fff" stroke="#505050" stroke-width="1.8"/><path d="M67,-10.5 Q77,0 67,10.5" fill="none" stroke="#333" stroke-width="2"/><rect x="0.9" y="-16.5" width="35" height="33" fill="#fff" stroke="#505050" stroke-width="1.8"/><rect x="4" y="-15.5" width="32" height="3" fill="#8c8c8c"/><rect x="4" y="12.5" width="32" height="3" fill="#8c8c8c"/><line x1="35" y1="-16" x2="35" y2="16" stroke="#505050" stroke-width="1.6"/></g><g transform="translate(827,767) scale(1,1)"><rect x="68" y="-11.5" width="20" height="23" fill="#dcdcdc" stroke="#505050" stroke-width="1.5"/><line x1="74" y1="-11" x2="74" y2="11" stroke="#888" stroke-width="1"/><line x1="78" y1="-11" x2="78" y2="11" stroke="#888" stroke-width="1"/><line x1="82" y1="-11" x2="82" y2="11" stroke="#888" stroke-width="1"/><line x1="85.5" y1="-11" x2="85.5" y2="11" stroke="#888" stroke-width="1"/><path d="M36,-16.5 L67,-10.5 Q77,0 67,10.5 L36,16.5 Z" fill="#fff" stroke="#505050" stroke-width="1.8"/><path d="M67,-10.5 Q77,0 67,10.5" fill="none" stroke="#333" stroke-width="2"/><rect x="0.9" y="-16.5" width="35" height="33" fill="#fff" stroke="#505050" stroke-width="1.8"/><rect x="4" y="-15.5" width="32" height="3" fill="#8c8c8c"/><rect x="4" y="12.5" width="32" height="3" fill="#8c8c8c"/><line x1="35" y1="-16" x2="35" y2="16" stroke="#505050" stroke-width="1.6"/></g><g transform="translate(827,826) scale(1,1)"><rect x="68" y="-11.5" width="20" height="23" fill="#dcdcdc" stroke="#505050" stroke-width="1.5"/><line x1="74" y1="-11" x2="74" y2="11" stroke="#888" stroke-width="1"/><line x1="78" y1="-11" x2="78" y2="11" stroke="#888" stroke-width="1"/><line x1="82" y1="-11" x2="82" y2="11" stroke="#888" stroke-width="1"/><line x1="85.5" y1="-11" x2="85.5" y2="11" stroke="#888" stroke-width="1"/><path d="M36,-16.5 L67,-10.5 Q77,0 67,10.5 L36,16.5 Z" fill="#fff" stroke="#505050" stroke-width="1.8"/><path d="M67,-10.5 Q77,0 67,10.5" fill="none" stroke="#333" stroke-width="2"/><rect x="0.9" y="-16.5" width="35" height="33" fill="#fff" stroke="#505050" stroke-width="1.8"/><rect x="4" y="-15.5" width="32" height="3" fill="#8c8c8c"/><rect x="4" y="12.5" width="32" height="3" fill="#8c8c8c"/><line x1="35" y1="-16" x2="35" y2="16" stroke="#505050" stroke-width="1.6"/></g><path d="M1142,624 L1171,624 L1256,701" fill="none" stroke="#606060" stroke-width="2.6" stroke-linejoin="round" /><path d="M1142,676 L1182,676 L1256,699" fill="none" stroke="#606060" stroke-width="2.6" stroke-linejoin="round" /><path d="M1142,728 L1182,728 L1256,703" fill="none" stroke="#606060" stroke-width="2.6" stroke-linejoin="round" /><path d="M1142,780 L1171,780 L1256,705" fill="none" stroke="#606060" stroke-width="2.6" stroke-linejoin="round" /><g transform="translate(1011,624)"><path d="M-3,-1.5 L0,-6 L11,-6 L11,6 L0,6 L-3,1.5 Z" fill="#5a5a5a" stroke="#444" stroke-width="1"/><line x1="4" y1="-5" x2="4" y2="5" stroke="#888" stroke-width="0.8"/><path d="M11,-6 L19,-8.3 M11,6 L19,8.3" stroke="#505050" stroke-width="1.2"/><rect x="19" y="-8.3" width="43" height="16.6" rx="1.5" fill="#fff" stroke="#505050" stroke-width="1.6"/><line x1="20.5" y1="-8" x2="20.5" y2="8" stroke="#444" stroke-width="2"/><rect x="29" y="-8.3" width="6" height="3.8" fill="#222"/><rect x="29" y="4.5" width="6" height="3.8" fill="#222"/><rect x="35" y="-7.8" width="14" height="2.6" fill="#9a9a9a"/><rect x="35" y="5.2" width="14" height="2.6" fill="#9a9a9a"/><line x1="49.5" y1="-8" x2="49.5" y2="8" stroke="#333" stroke-width="2.5"/></g><g transform="translate(1077,624)"><rect x="0" y="-3" width="16" height="6" fill="#fff" stroke="#505050" stroke-width="1.2"/><rect x="0" y="-3" width="3" height="6" fill="#222"/><rect x="16" y="-8.4" width="29" height="16.8" rx="1.5" fill="#fff" stroke="#505050" stroke-width="1.6"/><rect x="29.5" y="-8" width="10" height="16" fill="#8a8a8a"/><rect x="29.5" y="-8" width="10" height="2.5" fill="#333"/><rect x="29.5" y="5.5" width="10" height="2.5" fill="#333"/><line x1="45" y1="-8.4" x2="45" y2="8.4" stroke="#444" stroke-width="2"/><path d="M45,-7 L54.5,-5 L54.5,5 L45,7" fill="#fff" stroke="#505050" stroke-width="1.2"/><rect x="54.5" y="-5" width="12" height="10" fill="#777" stroke="#444" stroke-width="1.2"/></g><g transform="translate(1011,676)"><path d="M-3,-1.5 L0,-6 L11,-6 L11,6 L0,6 L-3,1.5 Z" fill="#5a5a5a" stroke="#444" stroke-width="1"/><line x1="4" y1="-5" x2="4" y2="5" stroke="#888" stroke-width="0.8"/><path d="M11,-6 L19,-8.3 M11,6 L19,8.3" stroke="#505050" stroke-width="1.2"/><rect x="19" y="-8.3" width="43" height="16.6" rx="1.5" fill="#fff" stroke="#505050" stroke-width="1.6"/><line x1="20.5" y1="-8" x2="20.5" y2="8" stroke="#444" stroke-width="2"/><rect x="29" y="-8.3" width="6" height="3.8" fill="#222"/><rect x="29" y="4.5" width="6" height="3.8" fill="#222"/><rect x="35" y="-7.8" width="14" height="2.6" fill="#9a9a9a"/><rect x="35" y="5.2" width="14" height="2.6" fill="#9a9a9a"/><line x1="49.5" y1="-8" x2="49.5" y2="8" stroke="#333" stroke-width="2.5"/></g><g transform="translate(1077,676)"><rect x="0" y="-3" width="16" height="6" fill="#fff" stroke="#505050" stroke-width="1.2"/><rect x="0" y="-3" width="3" height="6" fill="#222"/><rect x="16" y="-8.4" width="29" height="16.8" rx="1.5" fill="#fff" stroke="#505050" stroke-width="1.6"/><rect x="29.5" y="-8" width="10" height="16" fill="#8a8a8a"/><rect x="29.5" y="-8" width="10" height="2.5" fill="#333"/><rect x="29.5" y="5.5" width="10" height="2.5" fill="#333"/><line x1="45" y1="-8.4" x2="45" y2="8.4" stroke="#444" stroke-width="2"/><path d="M45,-7 L54.5,-5 L54.5,5 L45,7" fill="#fff" stroke="#505050" stroke-width="1.2"/><rect x="54.5" y="-5" width="12" height="10" fill="#777" stroke="#444" stroke-width="1.2"/></g><g transform="translate(1011,727)"><path d="M-3,-1.5 L0,-6 L11,-6 L11,6 L0,6 L-3,1.5 Z" fill="#5a5a5a" stroke="#444" stroke-width="1"/><line x1="4" y1="-5" x2="4" y2="5" stroke="#888" stroke-width="0.8"/><path d="M11,-6 L19,-8.3 M11,6 L19,8.3" stroke="#505050" stroke-width="1.2"/><rect x="19" y="-8.3" width="43" height="16.6" rx="1.5" fill="#fff" stroke="#505050" stroke-width="1.6"/><line x1="20.5" y1="-8" x2="20.5" y2="8" stroke="#444" stroke-width="2"/><rect x="29" y="-8.3" width="6" height="3.8" fill="#222"/><rect x="29" y="4.5" width="6" height="3.8" fill="#222"/><rect x="35" y="-7.8" width="14" height="2.6" fill="#9a9a9a"/><rect x="35" y="5.2" width="14" height="2.6" fill="#9a9a9a"/><line x1="49.5" y1="-8" x2="49.5" y2="8" stroke="#333" stroke-width="2.5"/></g><g transform="translate(1077,727)"><rect x="0" y="-3" width="16" height="6" fill="#fff" stroke="#505050" stroke-width="1.2"/><rect x="0" y="-3" width="3" height="6" fill="#222"/><rect x="16" y="-8.4" width="29" height="16.8" rx="1.5" fill="#fff" stroke="#505050" stroke-width="1.6"/><rect x="29.5" y="-8" width="10" height="16" fill="#8a8a8a"/><rect x="29.5" y="-8" width="10" height="2.5" fill="#333"/><rect x="29.5" y="5.5" width="10" height="2.5" fill="#333"/><line x1="45" y1="-8.4" x2="45" y2="8.4" stroke="#444" stroke-width="2"/><path d="M45,-7 L54.5,-5 L54.5,5 L45,7" fill="#fff" stroke="#505050" stroke-width="1.2"/><rect x="54.5" y="-5" width="12" height="10" fill="#777" stroke="#444" stroke-width="1.2"/></g><g transform="translate(1011,779)"><path d="M-3,-1.5 L0,-6 L11,-6 L11,6 L0,6 L-3,1.5 Z" fill="#5a5a5a" stroke="#444" stroke-width="1"/><line x1="4" y1="-5" x2="4" y2="5" stroke="#888" stroke-width="0.8"/><path d="M11,-6 L19,-8.3 M11,6 L19,8.3" stroke="#505050" stroke-width="1.2"/><rect x="19" y="-8.3" width="43" height="16.6" rx="1.5" fill="#fff" stroke="#505050" stroke-width="1.6"/><line x1="20.5" y1="-8" x2="20.5" y2="8" stroke="#444" stroke-width="2"/><rect x="29" y="-8.3" width="6" height="3.8" fill="#222"/><rect x="29" y="4.5" width="6" height="3.8" fill="#222"/><rect x="35" y="-7.8" width="14" height="2.6" fill="#9a9a9a"/><rect x="35" y="5.2" width="14" height="2.6" fill="#9a9a9a"/><line x1="49.5" y1="-8" x2="49.5" y2="8" stroke="#333" stroke-width="2.5"/></g><g transform="translate(1077,779)"><rect x="0" y="-3" width="16" height="6" fill="#fff" stroke="#505050" stroke-width="1.2"/><rect x="0" y="-3" width="3" height="6" fill="#222"/><rect x="16" y="-8.4" width="29" height="16.8" rx="1.5" fill="#fff" stroke="#505050" stroke-width="1.6"/><rect x="29.5" y="-8" width="10" height="16" fill="#8a8a8a"/><rect x="29.5" y="-8" width="10" height="2.5" fill="#333"/><rect x="29.5" y="5.5" width="10" height="2.5" fill="#333"/><line x1="45" y1="-8.4" x2="45" y2="8.4" stroke="#444" stroke-width="2"/><path d="M45,-7 L54.5,-5 L54.5,5 L45,7" fill="#fff" stroke="#505050" stroke-width="1.2"/><rect x="54.5" y="-5" width="12" height="10" fill="#777" stroke="#444" stroke-width="1.2"/></g><g><path d="M1345,703 L1447,703 Q1453,703 1453,697 L1453,618" fill="none" stroke="#9a9a9a" stroke-width="7"/><path d="M1345,703 L1447,703 Q1453,703 1453,697 L1453,618" fill="none" stroke="#dcdcdc" stroke-width="3.5"/><rect x="1258" y="685" width="10" height="34" rx="1.5" fill="#fff" stroke="#505050" stroke-width="1.5"/><line x1="1267" y1="685" x2="1267" y2="719" stroke="#333" stroke-width="2"/><rect x="1268" y="686.5" width="48" height="31" fill="#fff" stroke="#505050" stroke-width="1.5"/><rect x="1279" y="697" width="20" height="10" rx="5" fill="#fff" stroke="#505050" stroke-width="1.5"/><circle cx="1274" cy="693" r="1.9" fill="#666"/><circle cx="1305" cy="693" r="1.9" fill="#666"/><circle cx="1274" cy="710" r="1.9" fill="#666"/><circle cx="1305" cy="710" r="1.9" fill="#666"/><line x1="1311" y1="686.5" x2="1311" y2="717.5" stroke="#444" stroke-width="1.8"/><rect x="1311" y="686.5" width="7.5" height="31" rx="1" fill="#fff" stroke="#505050" stroke-width="1.4"/><rect x="1318.5" y="690" width="8" height="24" fill="#fff" stroke="#505050" stroke-width="1.4"/><rect x="1326.5" y="691" width="14.5" height="22" fill="#c4c4c4" stroke="#555" stroke-width="1.6"/><line x1="1329.5" y1="692" x2="1329.5" y2="712" stroke="#999" stroke-width="0.8"/><line x1="1332.5" y1="692" x2="1332.5" y2="712" stroke="#999" stroke-width="0.8"/><line x1="1335.5" y1="692" x2="1335.5" y2="712" stroke="#999" stroke-width="0.8"/><line x1="1338.5" y1="692" x2="1338.5" y2="712" stroke="#999" stroke-width="0.8"/><rect x="1341" y="693" width="5" height="19" fill="#fff" stroke="#505050" stroke-width="1.3"/></g><rect x="1410.5" y="445.5" width="113" height="173" fill="#fff" stroke="#5a5a5a" stroke-width="1.7"/><line x1="1410.5" y1="595.3" x2="1523.5" y2="595.3" stroke="#5a5a5a" stroke-width="1.8"/><circle cx="1420.0" cy="607" r="4.2" fill="#fff" stroke="#666" stroke-width="1.5"/><circle cx="1435.6" cy="607" r="4.2" fill="#fff" stroke="#666" stroke-width="1.5"/><circle cx="1451.2" cy="607" r="4.2" fill="#fff" stroke="#666" stroke-width="1.5"/><circle cx="1466.8" cy="607" r="4.2" fill="#fff" stroke="#666" stroke-width="1.5"/><circle cx="1482.4" cy="607" r="4.2" fill="#fff" stroke="#666" stroke-width="1.5"/><circle cx="1498.0" cy="607" r="4.2" fill="#fff" stroke="#666" stroke-width="1.5"/><circle cx="1513.6" cy="607" r="4.2" fill="#fff" stroke="#666" stroke-width="1.5"/><text transform="translate(1417.6,515.8) scale(1.17,1)" font-family="'Liberation Sans', sans-serif" font-size="28" letter-spacing="-0.6" fill="#3a3a3a">DC</text><text x="1464.3" y="515.8" font-family="'Liberation Sans', sans-serif" font-size="29.5" font-weight="bold" fill="#0a0a0a">12</text><text transform="translate(1497,515.8) scale(1.1,1)" font-family="'Liberation Sans', sans-serif" font-size="29.5" fill="#3a3a3a">V</text><text x="1437.5" y="631.5" font-family="'Liberation Sans', sans-serif" font-size="11" font-weight="bold" fill="#222">+</text><rect x="1463" y="626.5" width="7" height="1.6" fill="#444"/><rect x="818" y="1073.8" width="364" height="47.8" rx="2.5" fill="#fff" stroke="#666" stroke-width="1.8"/><rect x="824" y="1075.5" width="12" height="5" rx="1.5" fill="#aaa" stroke="#777" stroke-width="1"/><rect x="1164" y="1075.5" width="12" height="5" rx="1.5" fill="#aaa" stroke="#777" stroke-width="1"/><rect x="824" y="1114.5" width="12" height="5" rx="1.5" fill="#aaa" stroke="#777" stroke-width="1"/><rect x="1164" y="1114.5" width="12" height="5" rx="1.5" fill="#aaa" stroke="#777" stroke-width="1"/><rect x="920.0" y="1085.5" width="14" height="11" fill="#666" stroke="#444" stroke-width="1"/><path d="M922.0,1095.0 L922.0,1090.5 Q922.0,1087.0 926.0,1087.0 L928.0,1087.0 Q932.0,1087.0 932.0,1090.5 L932.0,1095.0 Z" fill="#fff"/><rect x="934.6" y="1085.5" width="14" height="11" fill="#666" stroke="#444" stroke-width="1"/><path d="M936.6,1095.0 L936.6,1090.5 Q936.6,1087.0 940.6,1087.0 L942.6,1087.0 Q946.6,1087.0 946.6,1090.5 L946.6,1095.0 Z" fill="#fff"/><rect x="949.2" y="1085.5" width="14" height="11" fill="#666" stroke="#444" stroke-width="1"/><path d="M951.2,1095.0 L951.2,1090.5 Q951.2,1087.0 955.2,1087.0 L957.2,1087.0 Q961.2,1087.0 961.2,1090.5 L961.2,1095.0 Z" fill="#fff"/><rect x="963.8" y="1085.5" width="14" height="11" fill="#666" stroke="#444" stroke-width="1"/><path d="M965.8,1095.0 L965.8,1090.5 Q965.8,1087.0 969.8,1087.0 L971.8,1087.0 Q975.8,1087.0 975.8,1090.5 L975.8,1095.0 Z" fill="#fff"/><rect x="920.0" y="1101" width="14" height="11" fill="#666" stroke="#444" stroke-width="1"/><path d="M922.0,1102.5 L922.0,1107 Q922.0,1110.5 926.0,1110.5 L928.0,1110.5 Q932.0,1110.5 932.0,1107 L932.0,1102.5 Z" fill="#fff"/><rect x="934.6" y="1101" width="14" height="11" fill="#666" stroke="#444" stroke-width="1"/><path d="M936.6,1102.5 L936.6,1107 Q936.6,1110.5 940.6,1110.5 L942.6,1110.5 Q946.6,1110.5 946.6,1107 L946.6,1102.5 Z" fill="#fff"/><rect x="949.2" y="1101" width="14" height="11" fill="#666" stroke="#444" stroke-width="1"/><path d="M951.2,1102.5 L951.2,1107 Q951.2,1110.5 955.2,1110.5 L957.2,1110.5 Q961.2,1110.5 961.2,1107 L961.2,1102.5 Z" fill="#fff"/><rect x="963.8" y="1101" width="14" height="11" fill="#666" stroke="#444" stroke-width="1"/><path d="M965.8,1102.5 L965.8,1107 Q965.8,1110.5 969.8,1110.5 L971.8,1110.5 Q975.8,1110.5 975.8,1107 L975.8,1102.5 Z" fill="#fff"/><rect x="982.5" y="1085.5" width="14" height="11" fill="#666" stroke="#444" stroke-width="1"/><path d="M984.5,1095.0 L984.5,1090.5 Q984.5,1087.0 988.5,1087.0 L990.5,1087.0 Q994.5,1087.0 994.5,1090.5 L994.5,1095.0 Z" fill="#fff"/><rect x="997.1" y="1085.5" width="14" height="11" fill="#666" stroke="#444" stroke-width="1"/><path d="M999.1,1095.0 L999.1,1090.5 Q999.1,1087.0 1003.1,1087.0 L1005.1,1087.0 Q1009.1,1087.0 1009.1,1090.5 L1009.1,1095.0 Z" fill="#fff"/><rect x="1011.7" y="1085.5" width="14" height="11" fill="#666" stroke="#444" stroke-width="1"/><path d="M1013.7,1095.0 L1013.7,1090.5 Q1013.7,1087.0 1017.7,1087.0 L1019.7,1087.0 Q1023.7,1087.0 1023.7,1090.5 L1023.7,1095.0 Z" fill="#fff"/><rect x="1026.3" y="1085.5" width="14" height="11" fill="#666" stroke="#444" stroke-width="1"/><path d="M1028.3,1095.0 L1028.3,1090.5 Q1028.3,1087.0 1032.3,1087.0 L1034.3,1087.0 Q1038.3,1087.0 1038.3,1090.5 L1038.3,1095.0 Z" fill="#fff"/><rect x="982.5" y="1101" width="14" height="11" fill="#666" stroke="#444" stroke-width="1"/><path d="M984.5,1102.5 L984.5,1107 Q984.5,1110.5 988.5,1110.5 L990.5,1110.5 Q994.5,1110.5 994.5,1107 L994.5,1102.5 Z" fill="#fff"/><rect x="997.1" y="1101" width="14" height="11" fill="#666" stroke="#444" stroke-width="1"/><path d="M999.1,1102.5 L999.1,1107 Q999.1,1110.5 1003.1,1110.5 L1005.1,1110.5 Q1009.1,1110.5 1009.1,1107 L1009.1,1102.5 Z" fill="#fff"/><rect x="1011.7" y="1101" width="14" height="11" fill="#666" stroke="#444" stroke-width="1"/><path d="M1013.7,1102.5 L1013.7,1107 Q1013.7,1110.5 1017.7,1110.5 L1019.7,1110.5 Q1023.7,1110.5 1023.7,1107 L1023.7,1102.5 Z" fill="#fff"/><rect x="1026.3" y="1101" width="14" height="11" fill="#666" stroke="#444" stroke-width="1"/><path d="M1028.3,1102.5 L1028.3,1107 Q1028.3,1110.5 1032.3,1110.5 L1034.3,1110.5 Q1038.3,1110.5 1038.3,1107 L1038.3,1102.5 Z" fill="#fff"/><rect x="1044.0" y="1085.5" width="14" height="11" fill="#666" stroke="#444" stroke-width="1"/><path d="M1046.0,1095.0 L1046.0,1090.5 Q1046.0,1087.0 1050.0,1087.0 L1052.0,1087.0 Q1056.0,1087.0 1056.0,1090.5 L1056.0,1095.0 Z" fill="#fff"/><rect x="1058.6" y="1085.5" width="14" height="11" fill="#666" stroke="#444" stroke-width="1"/><path d="M1060.6,1095.0 L1060.6,1090.5 Q1060.6,1087.0 1064.6,1087.0 L1066.6,1087.0 Q1070.6,1087.0 1070.6,1090.5 L1070.6,1095.0 Z" fill="#fff"/><rect x="1073.2" y="1085.5" width="14" height="11" fill="#666" stroke="#444" stroke-width="1"/><path d="M1075.2,1095.0 L1075.2,1090.5 Q1075.2,1087.0 1079.2,1087.0 L1081.2,1087.0 Q1085.2,1087.0 1085.2,1090.5 L1085.2,1095.0 Z" fill="#fff"/><rect x="1087.8" y="1085.5" width="14" height="11" fill="#666" stroke="#444" stroke-width="1"/><path d="M1089.8,1095.0 L1089.8,1090.5 Q1089.8,1087.0 1093.8,1087.0 L1095.8,1087.0 Q1099.8,1087.0 1099.8,1090.5 L1099.8,1095.0 Z" fill="#fff"/><rect x="1044.0" y="1101" width="14" height="11" fill="#666" stroke="#444" stroke-width="1"/><path d="M1046.0,1102.5 L1046.0,1107 Q1046.0,1110.5 1050.0,1110.5 L1052.0,1110.5 Q1056.0,1110.5 1056.0,1107 L1056.0,1102.5 Z" fill="#fff"/><rect x="1058.6" y="1101" width="14" height="11" fill="#666" stroke="#444" stroke-width="1"/><path d="M1060.6,1102.5 L1060.6,1107 Q1060.6,1110.5 1064.6,1110.5 L1066.6,1110.5 Q1070.6,1110.5 1070.6,1107 L1070.6,1102.5 Z" fill="#fff"/><rect x="1073.2" y="1101" width="14" height="11" fill="#666" stroke="#444" stroke-width="1"/><path d="M1075.2,1102.5 L1075.2,1107 Q1075.2,1110.5 1079.2,1110.5 L1081.2,1110.5 Q1085.2,1110.5 1085.2,1107 L1085.2,1102.5 Z" fill="#fff"/><rect x="1087.8" y="1101" width="14" height="11" fill="#666" stroke="#444" stroke-width="1"/><path d="M1089.8,1102.5 L1089.8,1107 Q1089.8,1110.5 1093.8,1110.5 L1095.8,1110.5 Q1099.8,1110.5 1099.8,1107 L1099.8,1102.5 Z" fill="#fff"/><rect x="1114" y="1101" width="13" height="11" fill="#777" stroke="#555" stroke-width="1"/><path d="M1116.5,1103 L1116.5,1107 Q1116.5,1110 1120,1110 Q1124.5,1110 1124.5,1107 L1124.5,1103 Z" fill="#fff"/><rect x="1135" y="1101" width="13" height="11" fill="#777" stroke="#555" stroke-width="1"/><path d="M1137.5,1103 L1137.5,1107 Q1137.5,1110 1141,1110 Q1145.5,1110 1145.5,1107 L1145.5,1103 Z" fill="#fff"/><rect x="849" y="1094.5" width="51" height="8" fill="#8a8a8a"/><line x1="849" y1="1095.5" x2="900" y2="1095.5" stroke="#bbb" stroke-width="0.6"/><line x1="849" y1="1097.5" x2="900" y2="1097.5" stroke="#bbb" stroke-width="0.6"/><line x1="849" y1="1099.5" x2="900" y2="1099.5" stroke="#bbb" stroke-width="0.6"/><line x1="849" y1="1101.5" x2="900" y2="1101.5" stroke="#bbb" stroke-width="0.6"/><line x1="851" y1="1094.5" x2="851" y2="1102.5" stroke="#ccc" stroke-width="0.6"/><line x1="857" y1="1094.5" x2="857" y2="1102.5" stroke="#ccc" stroke-width="0.6"/><line x1="863" y1="1094.5" x2="863" y2="1102.5" stroke="#ccc" stroke-width="0.6"/><line x1="869" y1="1094.5" x2="869" y2="1102.5" stroke="#ccc" stroke-width="0.6"/><line x1="875" y1="1094.5" x2="875" y2="1102.5" stroke="#ccc" stroke-width="0.6"/><line x1="881" y1="1094.5" x2="881" y2="1102.5" stroke="#ccc" stroke-width="0.6"/><line x1="887" y1="1094.5" x2="887" y2="1102.5" stroke="#ccc" stroke-width="0.6"/><line x1="893" y1="1094.5" x2="893" y2="1102.5" stroke="#ccc" stroke-width="0.6"/><line x1="849" y1="1104.5" x2="889" y2="1104.5" stroke="#666" stroke-width="1.5"/><line x1="849" y1="1109" x2="889" y2="1109" stroke="#555" stroke-width="1.8"/><g transform="translate(950.5,1026)"><path d="M-6.5,40 L-6.5,6 Q-6.5,0 -4,0 L4,0 Q6.5,0 6.5,6 L6.5,40 Z" fill="#777" stroke="#444" stroke-width="1.2"/><rect x="-3.5" y="14" width="7" height="3.5" rx="1.5" fill="#fff"/><rect x="-4" y="20" width="8" height="7" fill="#ccc"/><rect x="-3.5" y="31.5" width="7" height="2.5" fill="#fff"/><rect x="-6.5" y="34.5" width="13" height="6" fill="#111"/></g><g transform="translate(973,1026)"><path d="M-6.5,40 L-6.5,6 Q-6.5,0 -4,0 L4,0 Q6.5,0 6.5,6 L6.5,40 Z" fill="#777" stroke="#444" stroke-width="1.2"/><rect x="-3.5" y="14" width="7" height="3.5" rx="1.5" fill="#fff"/><rect x="-4" y="20" width="8" height="7" fill="#ccc"/><rect x="-3.5" y="31.5" width="7" height="2.5" fill="#fff"/><rect x="-6.5" y="34.5" width="13" height="6" fill="#111"/></g><g transform="translate(995.5,1026)"><path d="M-6.5,40 L-6.5,6 Q-6.5,0 -4,0 L4,0 Q6.5,0 6.5,6 L6.5,40 Z" fill="#777" stroke="#444" stroke-width="1.2"/><rect x="-3.5" y="14" width="7" height="3.5" rx="1.5" fill="#fff"/><rect x="-4" y="20" width="8" height="7" fill="#ccc"/><rect x="-3.5" y="31.5" width="7" height="2.5" fill="#fff"/><rect x="-6.5" y="34.5" width="13" height="6" fill="#111"/></g><g transform="translate(1018.5,1026)"><path d="M-6.5,40 L-6.5,6 Q-6.5,0 -4,0 L4,0 Q6.5,0 6.5,6 L6.5,40 Z" fill="#777" stroke="#444" stroke-width="1.2"/><rect x="-3.5" y="14" width="7" height="3.5" rx="1.5" fill="#fff"/><rect x="-4" y="20" width="8" height="7" fill="#ccc"/><rect x="-3.5" y="31.5" width="7" height="2.5" fill="#fff"/><rect x="-6.5" y="34.5" width="13" height="6" fill="#111"/></g><g transform="translate(1140,1170) scale(1,-1)"><path d="M-6,40 L-6,6 Q-6,0 -3.5,0 L3.5,0 Q6,0 6,6 L6,40 Z" fill="#777" stroke="#444" stroke-width="1.2"/><rect x="-3.5" y="14" width="7" height="3.5" rx="1.5" fill="#fff"/><rect x="-4" y="20" width="8" height="7" fill="#ccc"/><rect x="-3.5" y="31.5" width="7" height="2.5" fill="#fff"/><rect x="-6" y="34.5" width="12" height="6" fill="#111"/></g><g transform="translate(1426,1169) scale(1,-1)"><path d="M-6,40 L-6,6 Q-6,0 -3.5,0 L3.5,0 Q6,0 6,6 L6,40 Z" fill="#777" stroke="#444" stroke-width="1.2"/><rect x="-3.5" y="14" width="7" height="3.5" rx="1.5" fill="#fff"/><rect x="-4" y="20" width="8" height="7" fill="#ccc"/><rect x="-3.5" y="31.5" width="7" height="2.5" fill="#fff"/><rect x="-6" y="34.5" width="12" height="6" fill="#111"/></g><path d="M1140,1170 L1140,1221 L1426,1221 L1426,1169" fill="none" stroke="#606060" stroke-width="2.6" stroke-linejoin="round" /><rect x="1244" y="1074" width="281" height="48" rx="1.5" fill="#fff" stroke="#777" stroke-width="1.8"/><circle cx="1249" cy="1078" r="2" fill="#222"/><circle cx="1520" cy="1078" r="2" fill="#222"/><circle cx="1249" cy="1117" r="2" fill="#222"/><circle cx="1520" cy="1117" r="2" fill="#222"/><rect x="1299" y="1082.5" width="68.5" height="33.5" rx="3" fill="#fff" stroke="#666" stroke-width="1.4"/><circle cx="1309" cy="1090.5" r="6" fill="#999" stroke="#333" stroke-width="1.5"/><circle cx="1309" cy="1090.5" r="2.5" fill="none" stroke="#ccc" stroke-width="1"/><circle cx="1325" cy="1090.5" r="6" fill="#999" stroke="#333" stroke-width="1.5"/><circle cx="1325" cy="1090.5" r="2.5" fill="none" stroke="#ccc" stroke-width="1"/><circle cx="1341.5" cy="1090.5" r="6" fill="#999" stroke="#333" stroke-width="1.5"/><circle cx="1341.5" cy="1090.5" r="2.5" fill="none" stroke="#ccc" stroke-width="1"/><circle cx="1357" cy="1090.5" r="6" fill="#999" stroke="#333" stroke-width="1.5"/><circle cx="1357" cy="1090.5" r="2.5" fill="none" stroke="#ccc" stroke-width="1"/><circle cx="1309" cy="1106" r="6" fill="#999" stroke="#333" stroke-width="1.5"/><circle cx="1309" cy="1106" r="2.5" fill="none" stroke="#ccc" stroke-width="1"/><circle cx="1325" cy="1106" r="6" fill="#999" stroke="#333" stroke-width="1.5"/><circle cx="1325" cy="1106" r="2.5" fill="none" stroke="#ccc" stroke-width="1"/><circle cx="1341.5" cy="1106" r="6" fill="#999" stroke="#333" stroke-width="1.5"/><circle cx="1341.5" cy="1106" r="2.5" fill="none" stroke="#ccc" stroke-width="1"/><circle cx="1357" cy="1106" r="6" fill="#999" stroke="#333" stroke-width="1.5"/><circle cx="1357" cy="1106" r="2.5" fill="none" stroke="#ccc" stroke-width="1"/><circle cx="1375" cy="1090.5" r="5.5" fill="#999" stroke="#333" stroke-width="1.5"/><circle cx="1391" cy="1090.5" r="5.5" fill="#999" stroke="#333" stroke-width="1.5"/><circle cx="1375" cy="1106" r="5.5" fill="#999" stroke="#333" stroke-width="1.5"/><rect x="1394" y="1103" width="13" height="6" fill="#333"/><circle cx="1390" cy="1106" r="1" fill="#666"/><circle cx="1411" cy="1106" r="1" fill="#666"/><rect x="1417" y="1100.5" width="13" height="11" fill="#fff" stroke="#777" stroke-width="1.4"/><path d="M1419.5,1104 L1427.5,1104 L1427.5,1107 L1425,1109 L1422,1109 L1419.5,1107 Z" fill="none" stroke="#555" stroke-width="1"/><rect x="1432" y="1098" width="16" height="14" rx="2.5" fill="#fff" stroke="#222" stroke-width="2.4"/><rect x="1436" y="1102" width="8" height="5" fill="none" stroke="#888" stroke-width="1"/><rect x="1449" y="1100" width="5" height="12" fill="#ccc" stroke="#888" stroke-width="0.8"/><rect x="1463" y="1098" width="22" height="14" rx="1.5" fill="#fff" stroke="#222" stroke-width="2.4"/><line x1="1465" y1="1101.5" x2="1483" y2="1101.5" stroke="#333" stroke-width="1.4"/><rect x="1490" y="1098" width="23.5" height="14" rx="1.5" fill="#fff" stroke="#222" stroke-width="2.4"/><line x1="1494" y1="1102" x2="1494" y2="1108" stroke="#888" stroke-width="1"/><rect x="1259.5" y="897" width="249.5" height="114.5" rx="2" fill="#fff" stroke="#777" stroke-width="1.8"/><rect x="1361" y="1011.5" width="48" height="5" fill="#fff" stroke="#888" stroke-width="1.4"/><rect x="1343" y="1016.5" width="82" height="10.5" rx="2.5" fill="#fff" stroke="#888" stroke-width="1.4"/>
</g>
</svg>
</body></html>
